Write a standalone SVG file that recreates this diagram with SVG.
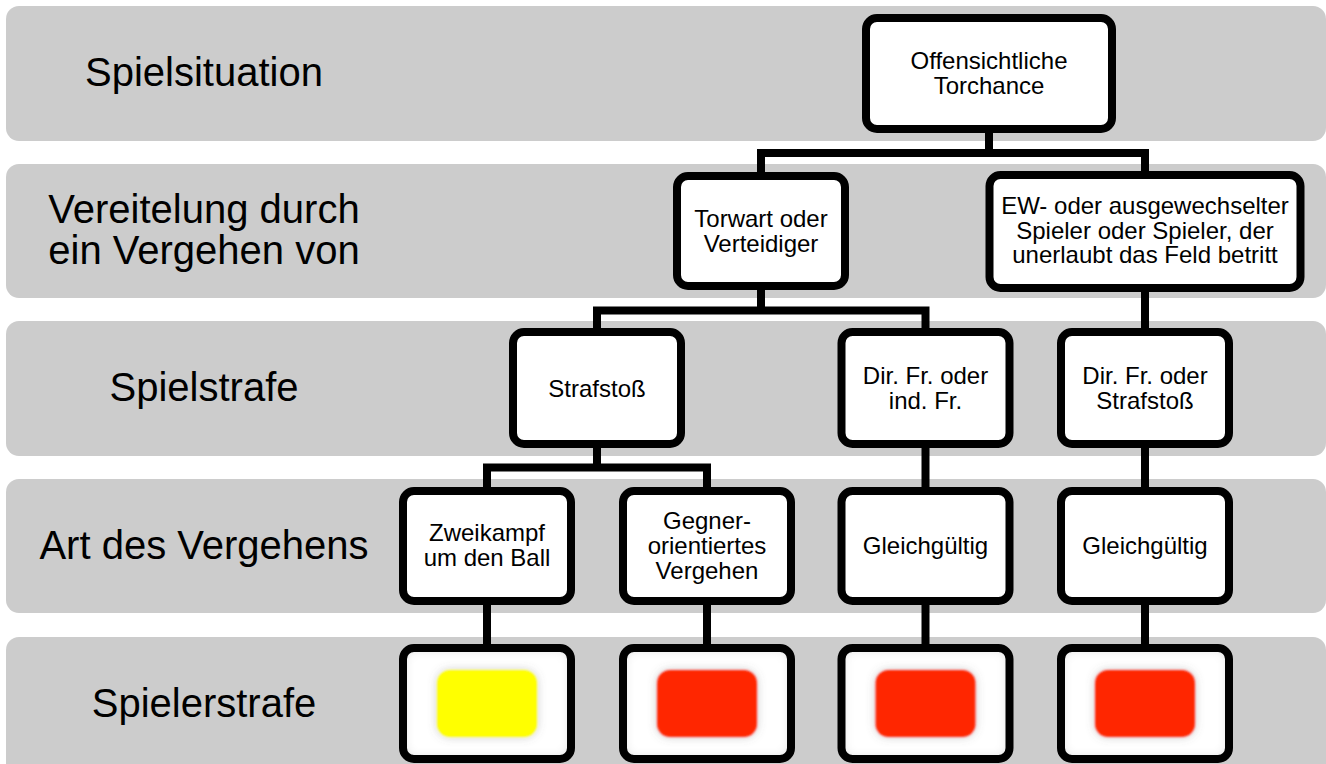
<svg xmlns="http://www.w3.org/2000/svg" width="1326" height="764" viewBox="0 0 1326 764">
<style>
.band{fill:#cccccc}
.lbl{font-family:"Liberation Sans",Arial,sans-serif;font-size:40px;fill:#000;text-anchor:middle}
.box{fill:#fff;stroke:#000;stroke-width:8}
.frame{fill:none;stroke:#000;stroke-width:8}
.txt{font-family:"Liberation Sans",Arial,sans-serif;font-size:24px;fill:#000;text-anchor:middle}
.conn{fill:none;stroke:#000;stroke-width:8;stroke-linejoin:miter;stroke-linecap:butt}
</style>
<defs>
<filter id="inner" x="-10%" y="-10%" width="120%" height="120%">
<feFlood flood-color="#8a8a8a" flood-opacity="0.55"/>
<feComposite in2="SourceAlpha" operator="out"/>
<feGaussianBlur stdDeviation="6"/>
<feComposite in2="SourceAlpha" operator="in" result="sh"/>
<feMerge><feMergeNode in="SourceGraphic"/><feMergeNode in="sh"/></feMerge>
</filter>
<filter id="soft" x="-30%" y="-30%" width="160%" height="160%">
<feGaussianBlur in="SourceAlpha" stdDeviation="5" result="b"/>
<feFlood flood-color="#666" flood-opacity="0.35"/>
<feComposite in2="b" operator="in" result="halo"/>
<feGaussianBlur in="SourceGraphic" stdDeviation="0.9" result="g"/>
<feMerge><feMergeNode in="halo"/><feMergeNode in="g"/></feMerge>
</filter>
</defs>

<g id="bands">
<rect class="band" x="6" y="6" width="1320" height="135" rx="13"/>
<rect class="band" x="6" y="164" width="1320" height="134" rx="13"/>
<rect class="band" x="6" y="321" width="1320" height="135" rx="13"/>
<rect class="band" x="6" y="479" width="1320" height="134" rx="13"/>
<rect class="band" x="6" y="637" width="1320" height="140" rx="13"/>
</g>

<g id="row-labels">
<text class="lbl" x="204" y="86">Spielsituation</text>
<text class="lbl" x="204" y="223">Vereitelung durch<tspan x="204" dy="40.5">ein Vergehen von</tspan></text>
<text class="lbl" x="204" y="401">Spielstrafe</text>
<text class="lbl" x="204" y="559">Art des Vergehens</text>
<text class="lbl" x="204" y="717">Spielerstrafe</text>
</g>

<g id="connectors">
<path class="conn" d="M989,133 V153 M761,176 V153 H1145 V176"/>
<path class="conn" d="M761,290 V310.5 M597,332 V310.5 H925.5 V332"/>
<path class="conn" d="M597,448 V467.5 M487,491 V467.5 H707 V491"/>
<path class="conn" d="M925.5,448 V491"/>
<path class="conn" d="M1145,292 V332"/>
<path class="conn" d="M1145,448 V491"/>
<path class="conn" d="M487,605 V648"/>
<path class="conn" d="M707,605 V648"/>
<path class="conn" d="M925.5,605 V648"/>
<path class="conn" d="M1145,605 V648"/>
</g>

<g id="node-torchance">
<rect class="box" x="866" y="18" width="246" height="111" rx="11"/>
<text class="txt" x="989" y="69">Offensichtliche<tspan x="989" dy="25">Torchance</tspan></text>
</g>

<g id="node-torwart">
<rect class="box" x="677" y="176" width="168" height="110" rx="11"/>
<text class="txt" x="761" y="226.5">Torwart oder<tspan x="761" dy="25">Verteidiger</tspan></text>
</g>

<g id="node-ew">
<rect class="box" x="989.5" y="175" width="311" height="113" rx="11"/>
<text class="txt" x="1145" y="214">EW- oder ausgewechselter<tspan x="1145" dy="24.5">Spieler oder Spieler, der</tspan><tspan x="1145" dy="24.5">unerlaubt das Feld betritt</tspan></text>
</g>

<g id="node-strafstoss">
<rect class="box" x="513" y="332" width="168" height="112" rx="11"/>
<text class="txt" x="597" y="397">Strafstoß</text>
</g>

<g id="node-dirfr-ind">
<rect class="box" x="841.5" y="332" width="168" height="112" rx="11"/>
<text class="txt" x="925.5" y="384">Dir. Fr. oder<tspan x="925.5" dy="25">ind. Fr.</tspan></text>
</g>

<g id="node-dirfr-strafstoss">
<rect class="box" x="1061" y="332" width="168" height="112" rx="11"/>
<text class="txt" x="1145" y="383.5">Dir. Fr. oder<tspan x="1145" dy="25">Strafstoß</tspan></text>
</g>

<g id="node-zweikampf">
<rect class="box" x="403" y="491" width="168" height="110" rx="11"/>
<text class="txt" x="487" y="541">Zweikampf<tspan x="487" dy="25">um den Ball</tspan></text>
</g>

<g id="node-gegner">
<rect class="box" x="623" y="491" width="168" height="110" rx="11"/>
<text class="txt" x="707" y="529">Gegner-<tspan x="707" dy="25">orientiertes</tspan><tspan x="707" dy="25">Vergehen</tspan></text>
</g>

<g id="node-gleich-1">
<rect class="box" x="841.5" y="491" width="168" height="110" rx="11"/>
<text class="txt" x="925.5" y="553.5">Gleichgültig</text>
</g>

<g id="node-gleich-2">
<rect class="box" x="1061" y="491" width="168" height="110" rx="11"/>
<text class="txt" x="1145" y="553.5">Gleichgültig</text>
</g>

<g id="node-card-yellow">
<rect x="403" y="648" width="168" height="111" rx="11" fill="#fff" filter="url(#inner)"/>
<rect x="437" y="670" width="100" height="67" rx="13" fill="#ffff00" filter="url(#soft)"/>
<rect class="frame" x="403" y="648" width="168" height="111" rx="11"/>
</g>

<g id="node-card-red-1">
<rect x="623" y="648" width="168" height="111" rx="11" fill="#fff" filter="url(#inner)"/>
<rect x="657" y="670" width="100" height="67" rx="13" fill="#ff2800" filter="url(#soft)"/>
<rect class="frame" x="623" y="648" width="168" height="111" rx="11"/>
</g>

<g id="node-card-red-2">
<rect x="841.5" y="648" width="168" height="111" rx="11" fill="#fff" filter="url(#inner)"/>
<rect x="875.5" y="670" width="100" height="67" rx="13" fill="#ff2800" filter="url(#soft)"/>
<rect class="frame" x="841.5" y="648" width="168" height="111" rx="11"/>
</g>

<g id="node-card-red-3">
<rect x="1061" y="648" width="168" height="111" rx="11" fill="#fff" filter="url(#inner)"/>
<rect x="1095" y="670" width="100" height="67" rx="13" fill="#ff2800" filter="url(#soft)"/>
<rect class="frame" x="1061" y="648" width="168" height="111" rx="11"/>
</g>
</svg>
